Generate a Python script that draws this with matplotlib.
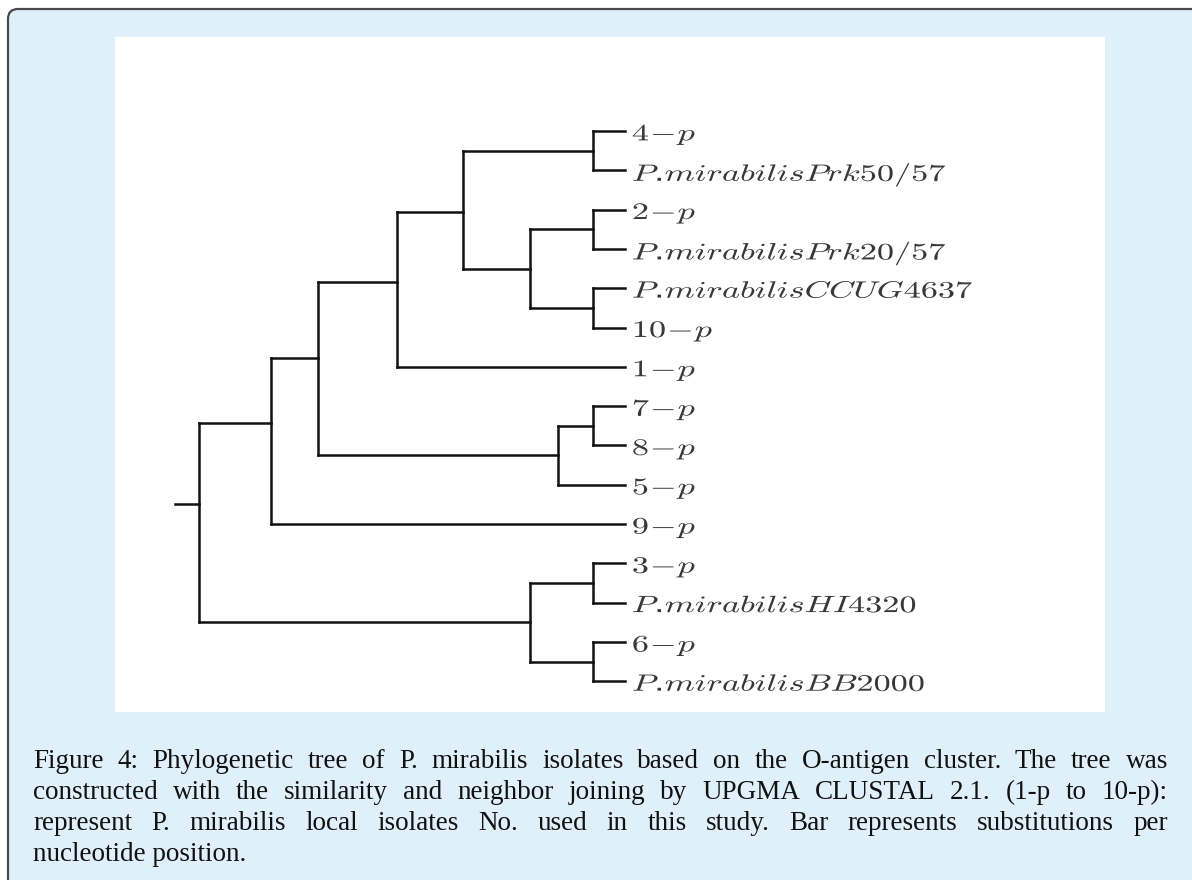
import matplotlib

matplotlib.use("Agg")
import matplotlib.pyplot as plt
from matplotlib.patches import FancyBboxPatch, Rectangle
from matplotlib.patheffects import AbstractPathEffect
from matplotlib.transforms import Affine2D

plt.rcParams["mathtext.fontset"] = "cm"

# leaves, top to bottom
leaf_labels = ["4-p", "P.mirabilisPrk50/57", "2-p", "P.mirabilisPrk20/57",
               "P.mirabilisCCUG4637", "10-p", "1-p", "7-p", "8-p", "5-p",
               "9-p", "3-p", "P.mirabilisHI4320", "6-p", "P.mirabilisBB2000"]

# internal nodes: children (leaf index or node name), depth from root, row position
node_names = ["a", "b", "c", "d", "e", "f", "g", "h", "i", "j", "k", "l", "m", "root"]
node_children = [[0, 1], [2, 3], [4, 5], [7, 8], [11, 12], [13, 14],
                 ["b", "c"], ["a", "g"], ["h", 6], ["d", 9], ["i", "j"],
                 ["k", 10], ["e", "f"], ["l", "m"]]
node_depth = [0.925, 0.925, 0.925, 0.925, 0.925, 0.925,
              0.777, 0.620, 0.465, 0.843, 0.279, 0.169, 0.777, 0.0]
node_row = [0.5, 2.5, 4.5, 7.5, 11.5, 13.5,
            3.5, 2.06, 3.84, 8.25, 5.78, 7.43, 12.5, 9.49]
leaf_depth = 1.0
root_stub = 0.056

caption_lines = [
    "Figure 4: Phylogenetic tree of P. mirabilis isolates based on the O-antigen cluster. The tree was",
    "constructed with the similarity and neighbor joining by UPGMA CLUSTAL 2.1. (1-p to 10-p):",
    "represent P. mirabilis local isolates No. used in this study. Bar represents substitutions per",
    "nucleotide position.",
]


class StretchX(AbstractPathEffect):
    """Widen glyphs horizontally around the text anchor."""

    def __init__(self, sx):
        super().__init__()
        self.sx = sx

    def draw_path(self, renderer, gc, tpath, affine, rgbFace=None):
        x0, y0 = affine.transform((0, 0))
        st = Affine2D().translate(-x0, -y0).scale(self.sx, 1).translate(x0, y0)
        renderer.draw_path(gc, tpath, affine + st, rgbFace)


def math_label(lab):
    # keep the dot outside math mode so mathtext adds no space after it
    if "." in lab:
        head, tail = lab.split(".", 1)
        return f"${head}$.${tail}$"
    return "$" + lab.replace("-", r"\!-\!") + "$"


W, H = 1192, 880
fig = plt.figure(figsize=(W / 100, H / 100), dpi=100)
fig.patch.set_facecolor("white")

bg = fig.add_axes([0, 0, 1, 1])
bg.set_xlim(0, W)
bg.set_ylim(H, 0)
bg.axis("off")
bg.add_patch(FancyBboxPatch((8, 9), 1500, 1200,
                            boxstyle="round,pad=0,rounding_size=10",
                            facecolor="#dff0fb", edgecolor="#4a4a4a", lw=1.6,
                            clip_on=False))
bg.add_patch(Rectangle((115, 37), 990, 675, facecolor="white", edgecolor="none"))

# tree panel
ax = fig.add_axes([115 / W, 1 - 712 / H, 990 / W, 675 / H])
ax.set_facecolor("none")
ax.axis("off")
ax.set_xlim(-0.197, 2.127)
ax.set_ylim(14.78, -2.39)

pos = {i: (leaf_depth, i) for i in range(len(leaf_labels))}
for name, d, r in zip(node_names, node_depth, node_row):
    pos[name] = (d, r)

line_kw = dict(color="#111111", lw=1.8, solid_capstyle="projecting")
for name, kids in zip(node_names, node_children):
    x, _ = pos[name]
    rows = [pos[k][1] for k in kids]
    ax.plot([x, x], [min(rows), max(rows)], **line_kw)
    for k in kids:
        ax.plot([x, pos[k][0]], [pos[k][1], pos[k][1]], **line_kw)
rx, ry = pos["root"]
ax.plot([rx - root_stub, rx], [ry, ry], **line_kw)

for i, lab in enumerate(leaf_labels):
    ax.annotate(math_label(lab), xy=(leaf_depth, i), xytext=(5, 0),
                textcoords="offset points", ha="left", va="center_baseline",
                fontsize=17, color="#383838",
                path_effects=[StretchX(1.45)])

# justified caption
renderer = fig.canvas.get_renderer()
left, right = 33, 1168
baselines = [768, 799, 830, 861]
cap_kw = dict(fontsize=19.5, family="Liberation Serif", color="#111111", va="baseline")
for k, (line, y) in enumerate(zip(caption_lines, baselines)):
    if k == len(caption_lines) - 1:
        bg.text(left, y, line, ha="left", **cap_kw)
        continue
    words = line.split()
    texts = [bg.text(0, y, w, ha="left", **cap_kw) for w in words]
    widths = [t.get_window_extent(renderer).width for t in texts]
    gap = (right - left - sum(widths)) / (len(words) - 1)
    x = left
    for t, w in zip(texts, widths):
        t.set_x(x)
        x += w + gap

fig.savefig("out.png", dpi=100)
